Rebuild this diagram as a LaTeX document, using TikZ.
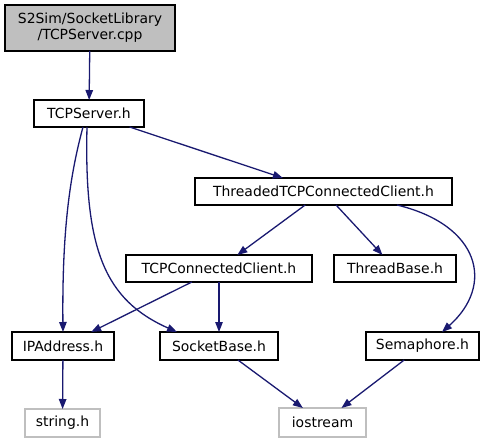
\documentclass[tikz,border=0pt]{standalone}
\usepackage{fontspec}
\setmainfont{DejaVu Sans}
\usetikzlibrary{arrows.meta}
\definecolor{edgeblue}{HTML}{191970}
\definecolor{lightgr}{HTML}{BFBFBF}
\begin{document}
\begin{tikzpicture}[x=1bp,y=-1bp,
  box/.style={draw=black,line width=1.3bp,rectangle,inner sep=0pt,outer sep=0pt,
    font=\fontsize{14}{16}\selectfont,align=center},
  sysbox/.style={box,draw=lightgr},
  dep/.style={draw=edgeblue,line width=1.3bp,-{Triangle[length=10bp,width=7.5bp]}}]
\useasboundingbox (0,0) rectangle (492,443);
\node[box,fill=lightgr,minimum width=170bp,minimum height=46bp] (cpp) at (90,28) {S2Sim/SocketLibrary\\/TCPServer.cpp};
\node[box,minimum width=110bp,minimum height=27bp] (tcps) at (89,113.5) {TCPServer.h};
\node[box,minimum width=257bp,minimum height=27bp] (thr) at (323.5,191.5) {ThreadedTCPConnectedClient.h};
\node[box,minimum width=186bp,minimum height=27bp] (tcc) at (219,268.5) {TCPConnectedClient.h};
\node[box,minimum width=122bp,minimum height=27bp] (tb) at (395,268.5) {ThreadBase.h};
\node[box,minimum width=102bp,minimum height=28bp] (ip) at (63,346) {IPAddress.h};
\node[box,minimum width=118bp,minimum height=28bp] (sb) at (219,346) {SocketBase.h};
\node[box,minimum width=113bp,minimum height=28bp] (sem) at (422.5,346) {Semaphore.h};
\node[sysbox,minimum width=75bp,minimum height=28bp] (str) at (62.5,423) {string.h};
\node[sysbox,minimum width=87bp,minimum height=29bp] (ios) at (322.5,422.5) {iostream};

\draw[dep] (cpp) -- (tcps);
\draw[dep] (tcps) -- (thr);
\draw[dep] ([xshift=-6bp]tcps.south) .. controls (70,175) and (62,230) .. (ip.north);
\draw[dep] ([xshift=-2bp]tcps.south) .. controls (84,250) and (105,300) .. ([xshift=-42bp]sb.north);
\draw[dep] (thr) -- (tcc);
\draw[dep] (thr) -- (tb);
\draw[dep] ([xshift=73.5bp]thr.south) .. controls (480,225) and (495,285) .. ([xshift=19.5bp]sem.north);
\draw[dep] (tcc) -- (ip);
\draw[dep] (tcc) -- (sb);
\draw[dep] (ip) -- (str);
\draw[dep] (sb) -- (ios);
\draw[dep] (sem) -- (ios);
\end{tikzpicture}
\end{document}
